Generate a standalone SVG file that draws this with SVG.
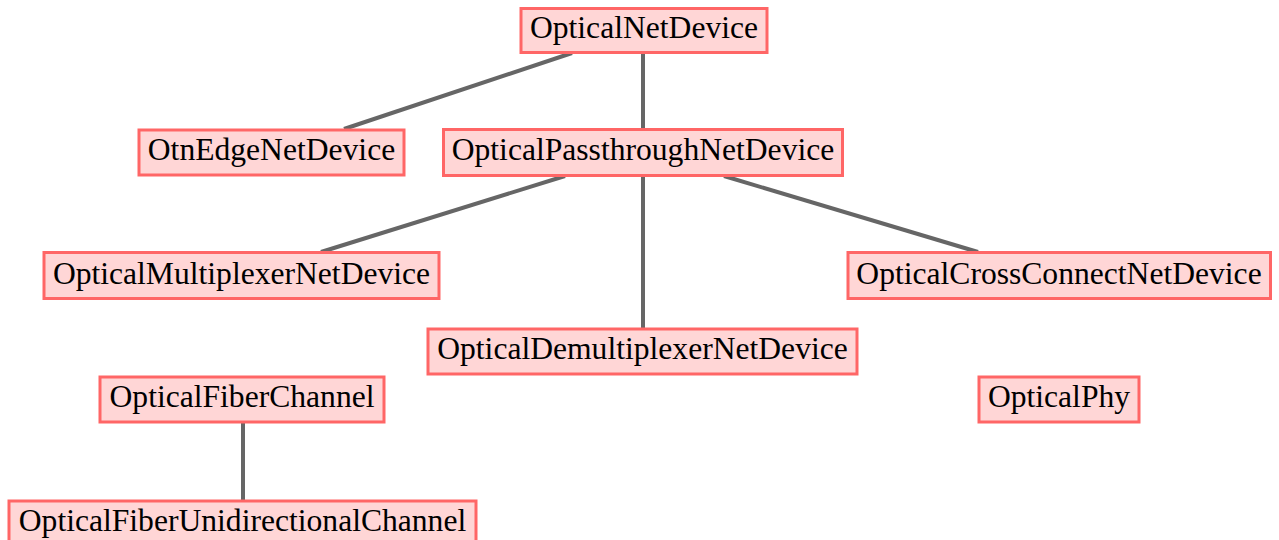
<svg xmlns="http://www.w3.org/2000/svg" width="1279" height="540" viewBox="0 0 1279 540">
  <style>
    .node rect { fill: #ffd6d6; stroke: #ff6666; stroke-width: 3; }
    .node text { font-family: "Liberation Serif", "Times New Roman", serif; font-size: 31.6px; fill: #000; text-anchor: middle; }
    .edges line { stroke: #666666; stroke-width: 4; }
  </style>
  <rect width="1279" height="540" fill="#ffffff"/>

  <!-- class hierarchy links -->
  <g id="edges" class="edges">
    <line x1="572" y1="53" x2="344" y2="129"/>
    <line x1="643" y1="53" x2="643" y2="128"/>
    <line x1="565" y1="176" x2="321" y2="252"/>
    <line x1="643" y1="176" x2="643" y2="328"/>
    <line x1="724" y1="176" x2="978" y2="252"/>
    <line x1="243" y1="422" x2="243" y2="500"/>
  </g>

  <g id="OpticalNetDevice" class="node">
    <rect x="521" y="8.5" width="246" height="44"/>
    <text x="644" y="38">OpticalNetDevice</text>
  </g>
  <g id="OtnEdgeNetDevice" class="node">
    <rect x="139" y="130" width="265" height="45"/>
    <text x="271.5" y="160">OtnEdgeNetDevice</text>
  </g>
  <g id="OpticalPassthroughNetDevice" class="node">
    <rect x="443.5" y="129.5" width="399" height="46"/>
    <text x="643" y="160">OpticalPassthroughNetDevice</text>
  </g>
  <g id="OpticalMultiplexerNetDevice" class="node">
    <rect x="44" y="252.5" width="395" height="46"/>
    <text x="241.5" y="284">OpticalMultiplexerNetDevice</text>
  </g>
  <g id="OpticalCrossConnectNetDevice" class="node">
    <rect x="848" y="252.5" width="422.5" height="46"/>
    <text x="1059" y="284">OpticalCrossConnectNetDevice</text>
  </g>
  <g id="OpticalDemultiplexerNetDevice" class="node">
    <rect x="428" y="329" width="429" height="45"/>
    <text x="642.5" y="359">OpticalDemultiplexerNetDevice</text>
  </g>
  <g id="OpticalFiberChannel" class="node">
    <rect x="100" y="377" width="284" height="45"/>
    <text x="242" y="407">OpticalFiberChannel</text>
  </g>
  <g id="OpticalPhy" class="node">
    <rect x="979" y="377" width="160" height="45"/>
    <text x="1059" y="407">OpticalPhy</text>
  </g>
  <g id="OpticalFiberUnidirectionalChannel" class="node">
    <rect x="9" y="501" width="467" height="46"/>
    <text x="242.5" y="531">OpticalFiberUnidirectionalChannel</text>
  </g>
</svg>
